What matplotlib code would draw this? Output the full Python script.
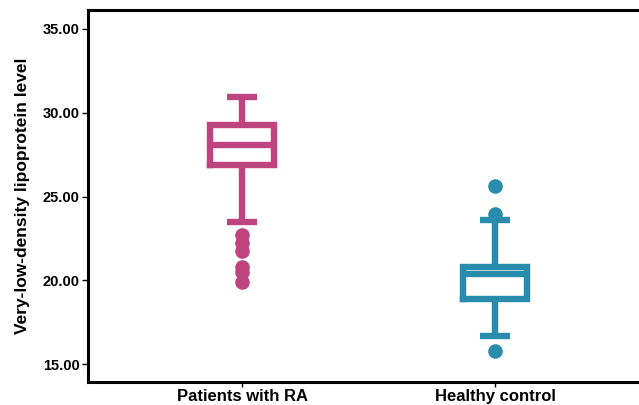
import matplotlib.pyplot as plt

# Box statistics
groups = ['Patients with RA', 'Healthy control']
colors = ['#BE4480', '#2A8CAD']
medians = [28.08, 20.41]
q1 = [26.89, 18.87]
q3 = [29.26, 20.81]
whis_low = [23.51, 16.69]
whis_high = [30.95, 23.61]
outliers = [
    [22.72, 22.24, 21.76, 20.81, 20.51, 19.91],
    [25.66, 23.95, 15.76],
]
yticks = [15, 20, 25, 30, 35]

plt.rcParams['font.family'] = ['Liberation Sans', 'DejaVu Sans']
plt.rcParams['font.weight'] = 'bold'

fig = plt.figure(figsize=(6.39, 4.05), dpi=100)
ax = fig.add_axes([88 / 639, 23 / 405, 1 - 88 / 639 + 0.02, 372 / 405])

for i in range(len(groups)):
    stats = [{
        'med': medians[i], 'q1': q1[i], 'q3': q3[i],
        'whislo': whis_low[i], 'whishi': whis_high[i],
        'fliers': outliers[i], 'label': groups[i],
    }]
    c = colors[i]
    ax.bxp(stats, positions=[i], widths=0.255, capwidths=0.12,
           boxprops=dict(color=c, linewidth=4.6, solid_joinstyle='miter'),
           medianprops=dict(color=c, linewidth=4.6, solid_capstyle='butt'),
           whiskerprops=dict(color=c, linewidth=4.6, solid_capstyle='butt'),
           capprops=dict(color=c, linewidth=4.6, solid_capstyle='butt'),
           flierprops=dict(marker='o', markerfacecolor=c, markeredgecolor=c,
                           markersize=9.5, linestyle='none'))

ax.set_xlim(-0.609, 1.619)
ax.set_ylim(13.94, 36.13)
ax.set_xticks([0, 1])
ax.set_xticklabels(groups, fontsize=12, fontweight='bold')
ax.set_yticks(yticks)
ax.set_yticklabels([f'{v:.2f}' for v in yticks], fontsize=10.5, fontweight='bold')
ax.set_ylabel('Very-low-density lipoprotein level', fontsize=12.5,
              fontweight='bold', labelpad=9)

for side in ['left', 'top', 'bottom']:
    ax.spines[side].set_linewidth(2.2)
ax.spines['right'].set_visible(False)
ax.tick_params(axis='y', length=4.5, width=1, pad=1.5)
ax.tick_params(axis='x', length=3.5, width=1, pad=1.8)

fig.savefig('out.png', dpi=100)
